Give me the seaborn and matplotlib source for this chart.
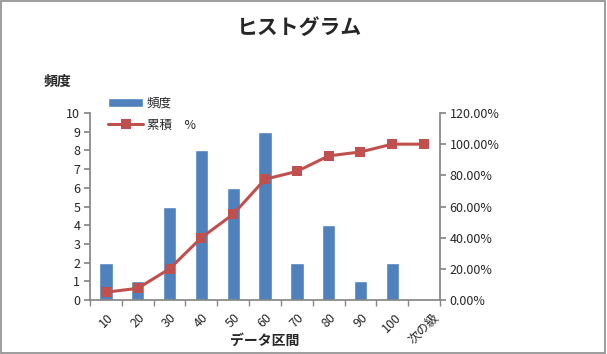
import matplotlib
matplotlib.use("Agg")
import matplotlib.pyplot as plt
import seaborn as sns
import pandas as pd
import numpy as np
from matplotlib.ticker import FuncFormatter, MultipleLocator

categories = ["10", "20", "30", "40", "50", "60", "70", "80", "90", "100", "次の級"]
freq = [2, 1, 5, 8, 6, 9, 2, 4, 1, 2, 0]
cum_pct = [5.0, 7.5, 20.0, 40.0, 55.0, 77.5, 82.5, 92.5, 95.0, 100.0, 100.0]

sns.set_theme(style="white")
plt.rcParams['font.family'] = ['Noto Sans CJK JP', 'DejaVu Sans']

df = pd.DataFrame({"区間": categories, "頻度": freq, "累積 %": cum_pct})

fig = plt.figure(figsize=(6.07, 3.54), dpi=100)
ax = fig.add_axes([90/607, 54/354, 350/607, 187/354])
axis_col = "#868686"

sns.barplot(data=df, x="区間", y="頻度", color="#4F81BD", width=0.42,
            saturation=1, ax=ax, label="頻度", legend=False)
ax.set_ylim(0, 10)
ax.set_xlim(-0.5, len(categories) - 0.5)
ax.yaxis.set_major_locator(MultipleLocator(1))

ax2 = ax.twinx()
ax2.set_position([90/607, 54/354, 350/607, 187/354])
sns.lineplot(x=np.arange(len(categories)), y=df["累積 %"], ax=ax2, color="#C0504D",
             marker="s", markersize=7, markeredgewidth=0, linewidth=2.2, label="累積　%",
             legend=False)
ax2.set_ylim(0, 120)
ax2.yaxis.set_major_locator(MultipleLocator(20))
ax2.yaxis.set_major_formatter(FuncFormatter(lambda v, p: f"{v:.2f}%"))
ax2.set_xlim(-0.5, len(categories) - 0.5)

for a in (ax, ax2):
    for s in a.spines.values():
        s.set_visible(False)
    a.set_xlabel("")
    a.set_ylabel("")

ax.spines['left'].set_visible(True)
ax.spines['left'].set_color(axis_col)
ax.spines['bottom'].set_visible(True)
ax.spines['bottom'].set_color(axis_col)
ax2.spines['right'].set_visible(True)
ax2.spines['right'].set_color(axis_col)

ax.tick_params(axis='y', left=True, length=4, color=axis_col, labelsize=9, pad=3)
ax2.tick_params(axis='y', right=True, length=4, color=axis_col, labelsize=9, pad=3)
ax.set_xticks(range(len(categories)))
ax.set_xticklabels(categories, rotation=45, fontsize=9)
ax.tick_params(axis='x', bottom=False, pad=2)
ax.set_xticks(np.arange(-0.5, len(categories), 1), minor=True)
ax.tick_params(axis='x', which='minor', bottom=True, length=4, color=axis_col)
for lbl in ax.get_xticklabels():
    lbl.set_ha('center')
    lbl.set_va('top')

fig.text(265/607, 1 - 341/354, "データ区間", ha='center', va='center',
         fontsize=10, fontweight='bold')
fig.text(300/607, 1 - 27/354, "ヒストグラム", ha='center', va='center',
         fontsize=15, fontweight='bold')
fig.text(57/607, 1 - 82/354, "頻度", ha='center', va='center',
         fontsize=10, fontweight='bold')

h1, l1 = ax.get_legend_handles_labels()
h2, l2 = ax2.get_legend_handles_labels()
leg = fig.legend(h1 + h2, l1 + l2, loc='upper left', bbox_to_anchor=(103/607, 1 - 92/354),
                 frameon=False, fontsize=9, handlelength=2.8, labelspacing=0.7,
                 borderaxespad=0, handletextpad=0.3)

fig.patches.append(plt.Rectangle((0.002, 0.003), 0.995, 0.994, transform=fig.transFigure,
                                 fill=False, edgecolor="#8C8C8C", linewidth=1.2))

fig.savefig("out.png", dpi=100)
